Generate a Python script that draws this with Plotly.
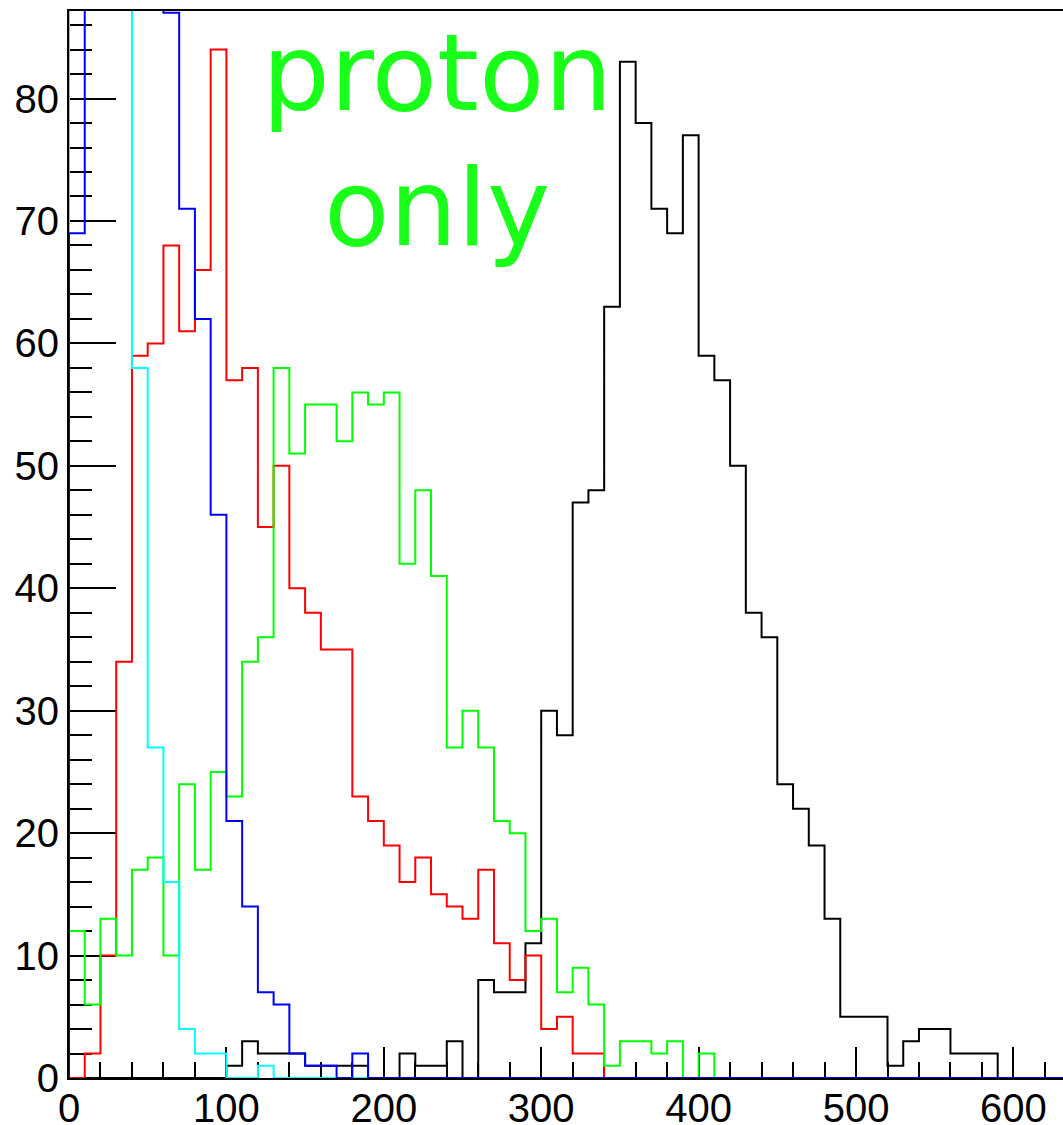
import numpy as np
import plotly.graph_objects as go

# Bin edges: 64 bins of width 10 from 0 to 640
bin_edges = list(range(0, 650, 10))

# Bin contents per histogram
black_counts = [0, 0, 0, 0, 0, 0, 0, 0, 0, 0,
                1, 3, 2, 2, 2, 1, 1, 1, 1, 0,
                0, 2, 1, 1, 3, 0, 8, 7, 7, 11,
                30, 28, 47, 48, 63, 83, 78, 71, 69, 77,
                59, 57, 50, 38, 36, 24, 22, 19, 13, 5,
                5, 5, 1, 3, 4, 4, 2, 2, 2, 0,
                0, 0, 0, 0]

red_counts = [0, 2, 10, 34, 59, 60, 68, 61, 66, 84,
              57, 58, 45, 50, 40, 38, 35, 35, 23, 21,
              19, 16, 18, 15, 14, 13, 17, 11, 8, 10,
              4, 5, 2, 2] + [0] * 30

green_counts = [12, 6, 13, 10, 17, 18, 10, 24, 17, 25,
                23, 34, 36, 58, 51, 55, 55, 52, 56, 55,
                56, 42, 48, 41, 27, 30, 27, 21, 20, 12,
                13, 7, 9, 6, 1, 3, 3, 2, 3, 0,
                2] + [0] * 23

cyan_counts = [230, 280, 200, 120, 58, 27, 16, 4, 2, 2,
               0, 0, 1] + [0] * 51

blue_counts = [69, 130, 170, 150, 120, 100, 87, 71, 62, 46,
               21, 14, 7, 6, 2, 1, 1, 0, 2] + [0] * 45

y_max = 87.15
x_max = 631.5

histograms = [
    ("black", black_counts, "#000000"),
    ("red", red_counts, "#ff0000"),
    ("green", green_counts, "#00ff00"),
    ("cyan", cyan_counts, "#00ffff"),
    ("blue", blue_counts, "#0000ff"),
]

fig = go.Figure()
for name, counts, color in histograms:
    # Step outline: rise from the baseline at the first edge, drop back at the last
    xs = [bin_edges[0]] + bin_edges[:-1] + [bin_edges[-1]]
    ys = [0] + counts + [0]
    fig.add_trace(go.Scatter(
        x=xs, y=ys, mode="lines", name=name,
        line=dict(color=color, width=2, shape="hv"),
        hoverinfo="skip", showlegend=False,
    ))

label_font = dict(family="DejaVu Sans", size=107, color="#1aff1a")
fig.add_annotation(x=233.5, y=82.1, xref="x", yref="y", text="proton",
                   showarrow=False, font=label_font,
                   xanchor="center", yanchor="middle")
fig.add_annotation(x=233.5, y=71.1, xref="x", yref="y", text="only",
                   showarrow=False, font=label_font,
                   xanchor="center", yanchor="middle")

tick_font = dict(family="Liberation Sans", size=40, color="#000000")

fig.update_layout(
    width=1063, height=1125,
    margin=dict(l=69, r=0, t=11, b=47),
    paper_bgcolor="white", plot_bgcolor="white",
    xaxis=dict(
        range=[0, x_max], showgrid=False, zeroline=False, automargin=False,
        showline=True, linecolor="black", linewidth=2, mirror=True,
        ticks="inside", ticklen=31, tickwidth=2, tickcolor="black",
        tick0=0, dtick=100, tickfont=tick_font, ticklabelstandoff=-6,
        minor=dict(ticks="inside", ticklen=16, tickwidth=2,
                   tickcolor="black", dtick=20, showgrid=False),
        layer="below traces",
    ),
    yaxis=dict(
        range=[0, y_max], showgrid=False, zeroline=False, automargin=False,
        showline=True, linecolor="black", linewidth=2, mirror=False,
        ticks="inside", ticklen=47, tickwidth=2, tickcolor="black",
        tick0=0, dtick=10, tickfont=tick_font,
        minor=dict(ticks="inside", ticklen=23, tickwidth=2,
                   tickcolor="black", dtick=2, showgrid=False),
        layer="below traces",
    ),
)

fig.write_html("out.html")
